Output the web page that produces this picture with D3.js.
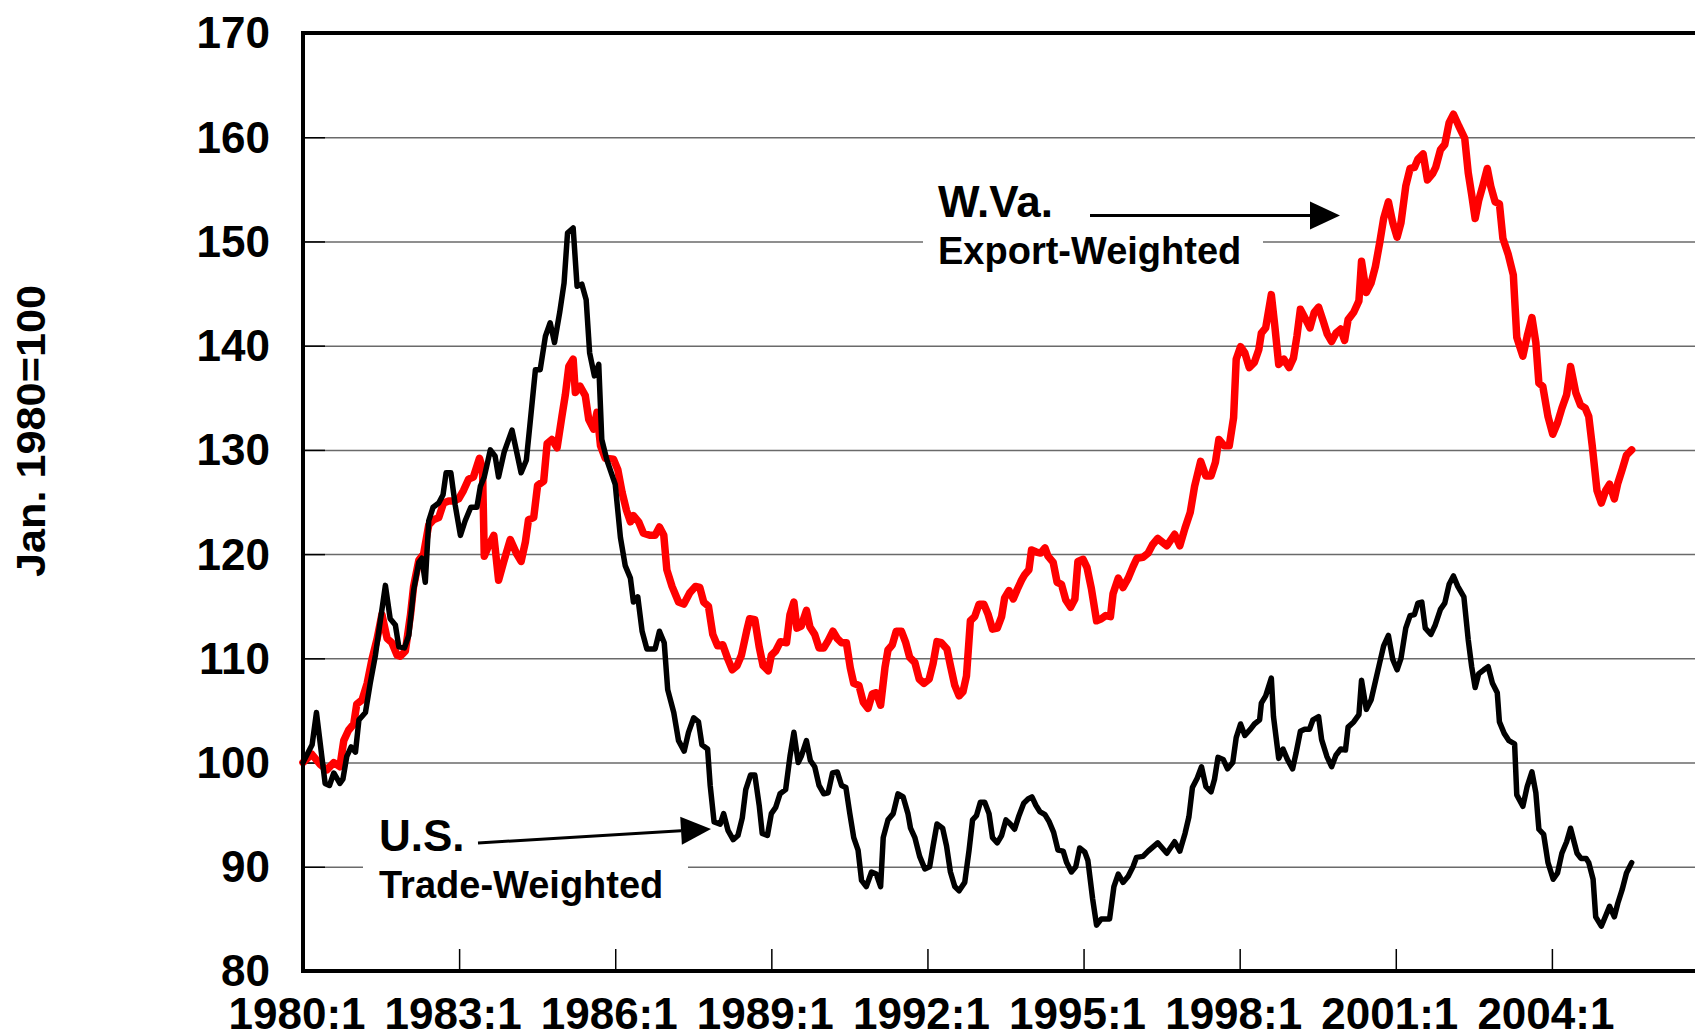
<!DOCTYPE html>
<meta charset="utf-8">
<script src="https://d3js.org/d3.v7.min.js"></script>
<style>
  * {margin: 0; padding: 0;}
  body {background: #fff;}
  text {
    font-family: "Liberation Sans", Arial, Helvetica, sans-serif;
    font-weight: bold;
    fill: #000;
  }
  .grid line {stroke: #6a6a6a; stroke-width: 1.5;}
  .grid path, .inner path, .ylab path, .xlab path {display: none;}
  .inner line {stroke: #000; stroke-width: 1.5;}
  .ylab text, .xlab text {font-size: 44px;}
  .frame {stroke: #000; stroke-width: 4; fill: none;}
</style>
<body>
<div id="chart"></div>
<script>

// months counted from 1980:1 (0) and index values, Jan. 1980 = 100
var usMonth = [0, 2.1, 3.1, 5.1, 6.1, 7.1, 8.5, 9.2, 10.1, 11.1, 12.1, 12.9, 14.4, 15.5, 16.7, 19.0, 20.1, 21.3, 22.1, 23.4,
  24.4, 25.5, 26.7, 27.4, 28.2, 29.0, 30.0, 31.3, 32.3, 33.0, 34.1, 35.1, 36.3, 37.4, 38.7, 40.1, 40.9, 41.8, 43.2, 44.3,
  45.1, 46.4, 48.2, 50.3, 51.5, 52.3, 53.6, 54.7, 55.9, 57.0, 58.0, 59.2, 60.2, 61.0, 62.3, 63.2, 64.3, 65.3, 66.1, 67.2,
  68.2, 68.9, 70.1, 72.0, 73.2, 74.3, 75.5, 76.2, 77.2, 78.2, 79.3, 81.2, 82.2, 83.3, 84.1, 85.5, 86.6, 87.9, 88.9, 90.1,
  91.2, 92.0, 93.3, 93.9, 94.8, 96.2, 97.0, 98.0, 99.2, 100.3, 101.3, 102.1, 103.2, 104.2, 105.2, 105.9, 107.1, 108.0, 109.0, 110.0,
  111.3, 112.3, 113.2, 114.2, 114.9, 116.1, 117.0, 118.0, 119.0, 120.1, 121.1, 122.1, 123.2, 124.2, 125.2, 126.1, 127.0, 128.0, 128.8, 129.9,
  131.1, 132.2, 133.2, 133.8, 134.9, 136.1, 137.2, 138.4, 139.5, 140.1, 141.1, 142.2, 143.4, 144.5, 145.3, 146.2, 147.5, 148.4, 149.3, 150.3,
  151.3, 152.6, 153.6, 154.4, 155.3, 156.2, 157.2, 158.2, 159.0, 160.1, 161.1, 162.1, 163.1, 164.1, 165.1, 166.2, 167.2, 168.1, 169.0, 169.9,
  171.1, 172.1, 173.1, 174.1, 175.3, 176.1, 177.2, 178.2, 179.1, 180.3, 181.0, 182.1, 183.0, 184.1, 186.0, 187.0, 188.0, 189.1, 190.3, 191.4,
  192.2, 193.7, 194.9, 197.1, 199.2, 201.0, 202.2, 203.4, 204.3, 205.1, 206.2, 207.2, 208.2, 209.4, 210.2, 211.0, 212.2, 213.2, 214.4, 215.2,
  216.2, 217.2, 218.5, 219.4, 220.6, 221.0, 222.0, 223.3, 223.8, 225.0, 226.0, 227.0, 228.2, 229.0, 230.0, 231.0, 232.1, 232.9, 234.2, 234.9,
  236.1, 237.2, 238.2, 239.3, 240.4, 241.0, 242.3, 243.5, 244.1, 245.2, 246.3, 247.3, 248.3, 249.2, 250.3, 251.3, 252.3, 253.2, 254.3, 255.3,
  256.3, 257.1, 258.0, 258.8, 260.1, 261.1, 262.3, 263.3, 264.3, 265.3, 266.3, 267.7, 268.7, 269.5, 270.3, 271.1, 272.3, 273.3, 274.3, 275.4,
  275.9, 277.0, 278.1, 279.4, 279.9, 281.3, 282.3, 283.4, 284.3, 285.0, 286.1, 287.1, 288.3, 289.3, 290.3, 291.4, 292.3, 293.8, 294.7, 295.9,
  296.5, 297.5, 298.1, 299.4, 300.5, 301.3, 302.4, 303.2, 304.2, 305.2, 306.4]
var usIndex = [100.0, 101.7, 104.8, 98.0, 97.8, 99.0, 98.0, 98.4, 100.6, 101.5, 101.0, 104.1, 104.8, 107.6, 110.3, 117.0, 113.8, 113.2, 111.1, 111.0,
  112.2, 116.5, 119.2, 119.6, 117.3, 123.2, 124.5, 124.9, 125.7, 127.8, 127.8, 124.7, 121.8, 123.2, 124.5, 124.5, 126.5, 127.4, 130.0, 129.4,
  127.4, 129.8, 131.9, 127.8, 129.0, 132.3, 137.7, 137.7, 140.9, 142.2, 140.3, 143.2, 146.0, 150.8, 151.3, 145.7, 145.9, 144.4, 139.3, 137.1,
  138.2, 131.0, 129.0, 126.7, 121.6, 118.9, 117.7, 115.4, 115.9, 112.6, 110.9, 110.9, 112.6, 111.5, 107.0, 104.8, 102.1, 101.1, 102.9, 104.3,
  103.9, 101.7, 101.3, 97.8, 94.3, 94.1, 95.1, 93.5, 92.6, 93.0, 94.7, 97.4, 98.8, 98.8, 95.9, 93.2, 93.0, 95.1, 95.7, 97.0,
  97.4, 100.6, 102.9, 100.0, 100.6, 102.1, 100.2, 99.6, 97.8, 97.0, 97.1, 99.0, 99.1, 97.8, 97.6, 95.1, 92.8, 91.6, 88.7, 88.1,
  89.5, 89.3, 88.1, 92.8, 94.5, 95.1, 97.0, 96.7, 95.1, 93.7, 92.8, 91.0, 89.8, 90.0, 92.0, 94.1, 93.7, 92.0, 89.5, 88.1,
  87.7, 88.5, 91.6, 94.5, 94.9, 96.2, 96.2, 95.1, 92.8, 92.3, 93.0, 94.5, 94.1, 93.6, 94.9, 96.1, 96.5, 96.7, 95.9, 95.3,
  95.0, 94.3, 93.3, 91.6, 91.5, 90.4, 89.5, 90.0, 91.8, 91.4, 90.6, 86.9, 84.4, 85.0, 85.0, 88.1, 89.3, 88.5, 89.1, 90.0,
  90.9, 91.0, 91.5, 92.3, 91.3, 92.4, 91.5, 93.2, 94.8, 97.6, 98.5, 99.6, 97.7, 97.2, 98.4, 100.5, 100.3, 99.4, 100.0, 102.4,
  103.7, 102.6, 103.2, 103.7, 104.1, 105.7, 106.4, 108.1, 104.4, 100.4, 101.3, 100.3, 99.4, 100.9, 103.0, 103.2, 103.2, 104.1, 104.4, 102.2,
  100.6, 99.6, 100.7, 101.3, 101.2, 103.4, 103.9, 104.6, 107.9, 105.1, 106.0, 107.8, 109.6, 111.2, 112.2, 109.9, 108.9, 110.0, 112.9, 114.1,
  114.2, 115.3, 115.4, 112.9, 112.3, 113.2, 114.7, 115.3, 117.1, 117.9, 116.9, 115.9, 111.8, 109.2, 107.2, 108.5, 108.9, 109.2, 107.6, 106.7,
  103.9, 102.8, 102.1, 101.8, 96.9, 95.8, 97.7, 99.1, 97.1, 93.6, 93.1, 90.4, 88.8, 89.4, 91.3, 92.4, 93.7, 91.3, 90.8, 90.8,
  90.4, 88.8, 85.2, 84.3, 85.4, 86.2, 85.2, 86.5, 87.8, 89.4, 90.4]

var wvMonth = [0, 2.0, 4.0, 5.5, 7.1, 8.5, 9.4, 10.5, 11.7, 12.4, 13.6, 14.8, 15.9, 17.1, 18.2, 19.4, 20.5, 21.7, 22.4, 23.6,
  24.8, 25.5, 26.7, 27.8, 29.0, 30.1, 31.3, 32.4, 33.6, 34.7, 35.9, 37.0, 38.2, 39.3, 40.7, 41.4, 41.8, 42.8, 44.0, 45.1,
  46.3, 47.8, 49.3, 50.3, 51.3, 52.0, 53.2, 54.1, 55.5, 56.3, 57.4, 58.6, 59.7, 60.5, 61.3, 62.3, 62.8, 63.9, 65.1, 65.9,
  67.0, 67.8, 68.6, 69.7, 71.6, 72.6, 73.6, 74.6, 75.5, 76.2, 77.4, 78.5, 80.1, 81.2, 82.2, 83.2, 83.9, 85.1, 86.6, 87.8,
  89.2, 90.5, 91.5, 92.4, 93.5, 94.5, 95.6, 96.8, 98.0, 99.0, 100.1, 101.1, 102.3, 103.0, 104.2, 105.2, 106.1, 107.3, 108.0, 109.0,
  110.1, 111.5, 112.3, 113.2, 113.9, 114.9, 116.1, 116.9, 118.0, 119.0, 120.1, 121.1, 122.2, 123.2, 124.2, 125.3, 126.2, 127.0, 128.2, 129.2,
  130.3, 131.3, 132.2, 133.2, 134.2, 134.9, 135.9, 136.8, 138.0, 139.0, 139.9, 141.1, 142.1, 143.2, 144.4, 145.3, 146.2, 147.2, 148.5, 149.3,
  150.3, 151.3, 152.2, 153.0, 153.9, 154.9, 155.9, 157.0, 158.0, 159.0, 160.1, 161.1, 161.8, 162.8, 163.8, 164.7, 165.7, 166.4, 167.4, 168.0,
  169.1, 170.1, 171.1, 171.8, 173.0, 173.9, 174.9, 175.9, 177.0, 178.0, 178.7, 179.9, 180.8, 181.8, 183.0, 184.1, 185.1, 186.2, 186.8, 188.0,
  189.1, 190.3, 191.4, 192.3, 193.7, 194.9, 195.9, 197.1, 199.2, 201.0, 202.2, 203.4, 204.6, 205.6, 207.0, 208.2, 209.4, 210.4, 211.2, 212.4,
  213.6, 214.6, 215.2, 216.2, 217.2, 218.2, 219.4, 220.4, 221.0, 222.0, 223.3, 224.1, 225.0, 226.2, 227.4, 228.4, 229.2, 230.0, 231.0, 232.2,
  233.2, 234.2, 235.3, 236.2, 237.2, 238.2, 239.3, 240.2, 241.0, 242.3, 243.5, 244.1, 245.2, 246.3, 247.3, 248.3, 249.2, 250.3, 251.3, 252.3,
  253.2, 254.3, 255.3, 256.3, 257.1, 258.3, 259.3, 260.5, 261.2, 262.3, 263.3, 264.3, 265.3, 266.5, 267.9, 268.7, 269.5, 270.3, 271.1, 272.1,
  273.1, 273.9, 274.9, 275.9, 276.7, 277.9, 279.1, 279.9, 281.3, 282.3, 283.4, 284.3, 285.0, 285.9, 287.1, 288.2, 289.3, 290.3, 291.4, 292.3,
  293.5, 294.6, 295.7, 296.5, 297.3, 298.4, 299.4, 300.4, 301.3, 302.4, 303.2, 304.2, 305.2, 306.4]
var wvIndex = [100.0, 100.8, 99.8, 99.3, 100.0, 99.6, 102.1, 103.1, 103.7, 105.6, 106.0, 107.6, 109.9, 111.9, 114.2, 111.9, 111.5, 110.3, 110.2, 110.7,
  114.2, 116.9, 119.4, 120.0, 122.8, 123.3, 123.5, 124.9, 125.1, 125.1, 125.3, 126.1, 127.2, 127.4, 129.2, 128.2, 119.8, 120.8, 121.8, 117.5,
  119.3, 121.4, 120.0, 119.3, 121.2, 123.3, 123.5, 126.6, 127.0, 130.6, 131.0, 130.2, 133.2, 135.3, 138.0, 138.7, 135.5, 136.1, 135.2, 132.9,
  132.0, 133.6, 130.4, 129.2, 129.1, 128.1, 125.9, 124.2, 123.1, 123.7, 123.1, 122.0, 121.8, 121.8, 122.6, 121.8, 118.5, 116.9, 115.4, 115.2,
  116.3, 116.9, 116.8, 115.4, 115.0, 112.3, 111.2, 111.3, 109.9, 108.9, 109.3, 110.3, 112.6, 113.8, 113.7, 111.1, 109.3, 108.8, 110.3, 110.7,
  111.6, 111.5, 114.2, 115.4, 112.9, 113.1, 114.6, 113.0, 112.3, 111.0, 111.0, 111.7, 112.6, 111.9, 111.5, 111.5, 109.1, 107.6, 107.4, 105.8,
  105.2, 106.6, 106.7, 105.5, 109.1, 110.8, 111.3, 112.6, 112.6, 111.5, 110.1, 109.6, 108.0, 107.6, 108.0, 109.5, 111.6, 111.5, 110.9, 109.3,
  107.4, 106.4, 106.8, 108.3, 113.6, 114.0, 115.2, 115.2, 114.2, 112.8, 112.9, 114.0, 115.8, 116.5, 115.7, 116.6, 117.5, 118.0, 118.5, 120.4,
  120.2, 120.1, 120.6, 119.8, 119.2, 117.3, 117.1, 115.6, 114.9, 115.7, 119.3, 119.5, 118.7, 116.7, 113.6, 113.8, 114.1, 114.0, 116.2, 117.7,
  116.8, 117.7, 118.8, 119.6, 119.7, 120.1, 120.9, 121.5, 120.8, 121.9, 120.8, 122.5, 124.0, 126.5, 128.9, 127.5, 127.5, 128.8, 131.0, 130.4,
  130.4, 133.1, 138.7, 139.9, 139.3, 137.9, 138.4, 139.6, 141.2, 141.7, 144.9, 141.9, 138.2, 138.7, 137.9, 138.8, 140.9, 143.5, 142.7, 141.7,
  143.2, 143.7, 142.3, 141.1, 140.4, 141.2, 141.6, 140.5, 142.5, 143.2, 144.3, 148.1, 145.1, 146.0, 147.6, 149.9, 152.2, 153.8, 151.8, 150.4,
  151.8, 155.3, 157.0, 157.1, 157.9, 158.4, 155.9, 156.5, 157.1, 158.8, 159.3, 161.4, 162.2, 161.1, 159.9, 156.6, 154.5, 152.2, 153.9, 155.4,
  157.0, 155.3, 153.8, 153.6, 150.3, 148.8, 146.8, 140.8, 139.0, 140.9, 142.7, 140.3, 136.4, 136.1, 133.2, 131.5, 132.6, 134.0, 135.3, 138.0,
  135.5, 134.3, 134.0, 133.2, 130.4, 126.1, 124.9, 126.1, 126.7, 125.3, 126.8, 128.1, 129.5, 130.0]

var yTicks = [80, 90, 100, 110, 120, 130, 140, 150, 160, 170]
var xTicks = [0, 36, 72, 108, 144, 180, 216, 252, 288]
var xLabels = ["1980:1", "1983:1", "1986:1", "1989:1", "1992:1", "1995:1", "1998:1", "2001:1", "2004:1"]

var W = 1695, H = 1034
var margin = {top: 33, right: 0, bottom: 63, left: 303}

var svg = d3.select("#chart")
  .append("svg")
    .attr("width", W)
    .attr("height", H)

// x runs in months since 1980:1, the plot is cut at the right edge of the page
var x = d3.scaleLinear()
  .domain([0, 321])
  .range([margin.left, W])

var y = d3.scaleLinear()
  .domain([80, 170])
  .range([H - margin.bottom, margin.top])

// grid lines
svg.append("g")
  .attr("class", "grid")
  .attr("transform", "translate(" + margin.left + ",0)")
  .call(d3.axisRight(y)
    .tickValues(yTicks.slice(1, -1))
    .tickSize(W - margin.left)
    .tickFormat(""))

// white boxes behind the labels hide the grid
svg.append("rect").attr("x", 923).attr("y", 178).attr("width", 340).attr("height", 96).attr("fill", "#fff")
svg.append("rect").attr("x", 363).attr("y", 812).attr("width", 325).attr("height", 100).attr("fill", "#fff")

// short ticks inside the frame
svg.append("g")
  .attr("class", "inner")
  .attr("transform", "translate(" + margin.left + ",0)")
  .call(d3.axisRight(y).tickValues(yTicks.slice(1, -1)).tickSize(22).tickFormat(""))

svg.append("g")
  .attr("class", "inner")
  .attr("transform", "translate(0," + y(80) + ")")
  .call(d3.axisTop(x).tickValues(xTicks.slice(1)).tickSize(22).tickFormat(""))

// tick labels
svg.append("g")
  .attr("class", "ylab")
  .attr("transform", "translate(" + margin.left + ",0)")
  .call(d3.axisLeft(y).tickValues(yTicks).tickSize(0).tickPadding(33))
  .selectAll("text")
    .attr("dy", "0.34em")

svg.append("g")
  .attr("class", "xlab")
  .attr("transform", "translate(0," + y(80) + ")")
  .call(d3.axisBottom(x)
    .tickValues(xTicks)
    .tickSize(0)
    .tickPadding(27)
    .tickFormat(function(d, i) { return xLabels[i] }))
  .selectAll("text")
    .attr("dx", -6.5)

// y title, drawn a little stretched along its length like the original
svg.append("text")
  .attr("transform", "translate(45," + 431 + ") rotate(-90)")
  .attr("text-anchor", "middle")
  .attr("textLength", 292)
  .attr("lengthAdjust", "spacingAndGlyphs")
  .style("font-size", "40px")
  .text("Jan. 1980=100")

// the two series, red under black
var line = d3.line()
  .x(function(d) { return x(d[0]) })
  .y(function(d) { return y(d[1]) })

var wv = wvMonth.map(function(m, i) { return [m, wvIndex[i]] })
var us = usMonth.map(function(m, i) { return [m, usIndex[i]] })

svg.append("path")
  .datum(wv)
  .attr("d", line)
  .attr("fill", "none")
  .attr("stroke", "#ff0000")
  .attr("stroke-width", 7.5)
  .attr("stroke-linejoin", "round")
  .attr("stroke-linecap", "round")

svg.append("path")
  .datum(us)
  .attr("d", line)
  .attr("fill", "none")
  .attr("stroke", "#000")
  .attr("stroke-width", 5.5)
  .attr("stroke-linejoin", "round")
  .attr("stroke-linecap", "round")

// frame: left, top and bottom
svg.append("path")
  .attr("class", "frame")
  .attr("d", "M" + W + "," + y(170) + "H" + margin.left + "V" + y(80) + "H" + W)

// labels with arrows
function arrow(x1, y1, x2, y2) {
  var a = Math.atan2(y2 - y1, x2 - x1), len = 30, half = 14
  var bx = x2 - len * Math.cos(a), by = y2 - len * Math.sin(a)
  svg.append("line")
    .attr("x1", x1).attr("y1", y1).attr("x2", bx).attr("y2", by)
    .attr("stroke", "#000").attr("stroke-width", 3)
  svg.append("path")
    .attr("d", "M" + x2 + "," + y2 +
      "L" + (bx + half * Math.sin(a)) + "," + (by - half * Math.cos(a)) +
      "L" + (bx - half * Math.sin(a)) + "," + (by + half * Math.cos(a)) + "Z")
    .attr("fill", "#000")
}

svg.append("text").attr("x", 938).attr("y", 217).style("font-size", "44px").text("W.Va.")
svg.append("text").attr("x", 938).attr("y", 264).style("font-size", "38px").text("Export-Weighted")
arrow(1090, 215.5, 1340, 215.5)

svg.append("text").attr("x", 379).attr("y", 851).style("font-size", "44px").text("U.S.")
svg.append("text").attr("x", 379).attr("y", 898).style("font-size", "38px").text("Trade-Weighted")
arrow(478, 843, 711, 829)

</script>
</body>
